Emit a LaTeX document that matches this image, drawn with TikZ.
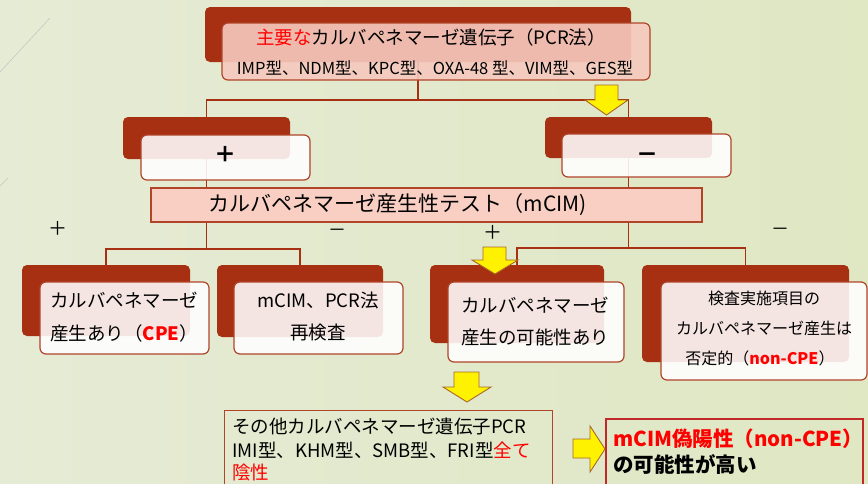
\documentclass[tikz,border=0pt]{standalone}
\usepackage{fontspec}
\setmainfont{Noto Sans CJK JP}
\definecolor{dred}{HTML}{A63011}
\definecolor{bord}{HTML}{B0452A}
\definecolor{toppink}{HTML}{F6C9BE}
\definecolor{barpink}{HTML}{F9CEC3}
\definecolor{ybord}{HTML}{A8672A}
\definecolor{redbox}{HTML}{C0282A}
\definecolor{bgL}{HTML}{E6EBD5}
\definecolor{bgM}{HTML}{FBFCF7}
\definecolor{bgR}{HTML}{DFE7C3}
\newcommand{\fs}[1]{\fontsize{#1}{#1}\selectfont}
\tikzset{
  backbox/.style={fill=dred, rounded corners=5pt, inner sep=0pt},
  frontbox/.style={draw=bord, line width=1.2pt, fill=white, fill opacity=0.88, rounded corners=6pt, inner sep=0pt},
  conn/.style={draw=dred, line width=1.4pt},
  yarrow/.style={fill=yellow, draw=ybord, line width=0.9pt, line join=miter},
  txt/.style={inner sep=0pt, text=black},
}
\begin{document}
\begin{tikzpicture}[x=1pt,y=-1pt]
\shade[left color=bgL, middle color=bgM, right color=bgR] (0,0) rectangle (868,483);
\useasboundingbox (0,0) rectangle (868,483);
\draw[black!22, line width=0.6pt] (0,72) -- (50,18);
\draw[black!22, line width=0.6pt] (0,186) -- (8,178);

% back boxes
\node[backbox, minimum width=426pt, minimum height=55pt] (topback) at (418,34.5) {};
\node[backbox, minimum width=167pt, minimum height=42pt] (plusback) at (206.5,138) {};
\node[backbox, minimum width=167pt, minimum height=41pt] (minusback) at (628.5,137.5) {};
\node[backbox, minimum width=168pt, minimum height=71pt] (cpeback) at (106,300.5) {};
\node[backbox, minimum width=166pt, minimum height=72pt] (reback) at (300,301) {};
\node[backbox, minimum width=174pt, minimum height=78pt] (midback) at (517,304) {};
\node[backbox, minimum width=207pt, minimum height=97pt] (nonback) at (745.5,313.5) {};

% connectors
\coordinate (j1) at (418,100);
\coordinate (j2) at (206.5,249);
\coordinate (j3) at (628.5,248);
\node[inner sep=0pt, minimum width=551pt, minimum height=34pt] (bar) at (426.5,205) {};
\draw[conn] (topback.south) -- (j1) -| (plusback.north);
\draw[conn] (j1) -| (minusback.north);
\draw[conn] (plusback.south) -- (plusback.south |- bar.north);
\draw[conn] (minusback.south) -- (minusback.south |- bar.north);
\draw[conn] (plusback.south |- bar.south) -- (j2) -| (cpeback.north);
\draw[conn] (j2) -| (reback.north);
\draw[conn] (minusback.south |- bar.south) -- (j3) -| (nonback.north);
\draw[conn] (j3) -| (midback.north);
\node[inner sep=0pt, draw=bord, line width=1.2pt, fill=barpink, minimum width=551pt, minimum height=34pt] (barbox) at (bar.center) {};

% front boxes
\node[frontbox, fill=toppink, fill opacity=0.9, minimum width=428pt, minimum height=57pt] (topfront) at (436,51.5) {};
\node[frontbox, minimum width=169pt, minimum height=45pt] (plusfront) at (225.5,157.5) {};
\node[frontbox, minimum width=169pt, minimum height=43pt] (minusfront) at (646.5,155.5) {};
\node[frontbox, minimum width=169pt, minimum height=72pt] (cpefront) at (124.5,318) {};
\node[frontbox, minimum width=169pt, minimum height=72pt] (refront) at (318.5,318) {};
\node[frontbox, minimum width=176pt, minimum height=80pt] (midfront) at (536,322) {};
\node[frontbox, minimum width=206pt, minimum height=98pt] (nonfront) at (764,331) {};

% bottom boxes
\node[draw=bord, line width=1pt, inner sep=0pt, minimum width=328pt, minimum height=80pt] (other) at (388,450) {};
\node[draw=redbox, line width=1.3pt, inner sep=0pt, minimum width=257pt, minimum height=71pt] (fpbox) at (734.5,454.5) {};

% yellow arrows
\draw[yarrow] (595,85) -- (618,85) -- (618,100) -- (628,100) -- (606.5,115) -- (585,100) -- (595,100) -- cycle;
\draw[yarrow] (483,247) -- (506,247) -- (506,260) -- (518,260) -- (495,274) -- (472,260) -- (483,260) -- cycle;
\draw[yarrow] (454,372) -- (479,372) -- (479,387) -- (491,387) -- (467,402) -- (443,387) -- (454,387) -- cycle;
\draw[yarrow] (573,439) -- (590,439) -- (590,426) -- (605,449) -- (590,472) -- (590,458) -- (573,458) -- cycle;

% texts
\node[txt, font=\fs{18.5}] (t1) at (431,37) {{\color{red}主要な}カルバペネマーゼ遺伝子（PCR法）};
\node[txt, font=\fs{16.5}] (t2) at (435,68) {IMP型、NDM型、KPC型、OXA-48 型、VIM型、GES型};
\node[txt, font=\bfseries\fs{22}] (tplus) at (225,154) {＋};
\node[txt, font=\bfseries\fs{22}] (tminus) at (647,158) {－};
\node[txt, font=\fs{21}] (tbar) at (398,205) {カルバペネマーゼ産生性テスト（mCIM)};
\node[txt, font=\fs{19}] (l1) at (58,228) {＋};
\node[txt, font=\fs{18}] (l2) at (337,233) {－};
\node[txt, font=\fs{19}] (l3) at (493,232) {＋};
\node[txt, font=\fs{18}] (l4) at (780,232) {－};
\node[txt, font=\fs{18.5}, anchor=west] (c1) at (50,300) {カルバペネマーゼ};
\node[txt, font=\fs{18.5}, anchor=west] (c2) at (50,333) {産生あり（{\bfseries\color{red}CPE}）};
\node[txt, font=\fs{18.5}] (r1) at (318,300) {mCIM、PCR法};
\node[txt, font=\fs{18.5}] (r2) at (318,333) {再検査};
\node[txt, font=\fs{18.5}, anchor=west] (m1) at (461,305) {カルバペネマーゼ};
\node[txt, font=\fs{18.5}, anchor=west] (m2) at (461,337) {産生の可能性あり};
\node[txt, font=\fs{16}] (n1) at (764,298) {検査実施項目の};
\node[txt, font=\fs{16}] (n2) at (764,328) {カルバペネマーゼ産生は};
\node[txt, font=\fs{16}] (n3) at (760,358) {否定的（{\bfseries\color{red}non-CPE}）};
\node[txt, font=\fs{18.5}, anchor=west] (o1) at (232,426) {その他カルバペネマーゼ遺伝子PCR};
\node[txt, font=\fs{18.5}, anchor=west] (o2) at (232,450) {IMI型、KHM型、SMB型、FRI型{\color{red}全て}};
\node[txt, font=\fs{18.5}, anchor=west] (o3) at (232,472) {{\color{red}陰性}};
\node[txt, font=\bfseries\fs{20.5}, anchor=west] (f1) at (613,439) {{\color{red}mCIM偽陽性（non-CPE）}};
\node[txt, font=\bfseries\fs{20.5}, anchor=west] (f2) at (613,464) {の可能性が高い};
\end{tikzpicture}
\end{document}
